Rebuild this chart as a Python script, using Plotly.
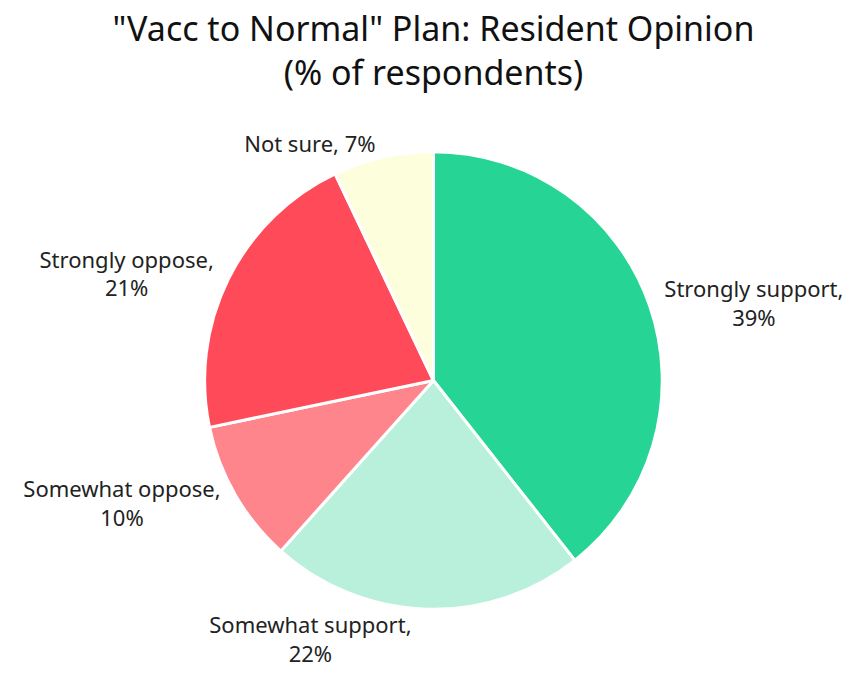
import plotly.graph_objects as go

labels = ["Strongly support", "Somewhat support", "Somewhat oppose", "Strongly oppose", "Not sure"]
values = [39, 22, 10, 21, 7]
colors = ["#26d596", "#b8f0dc", "#ff858d", "#ff4a5a", "#fdfedc"]
text_labels = ["Strongly support,<br>39%", "Somewhat support,<br>22%", "Somewhat oppose,<br>10%",
               "Strongly oppose,<br>21%", "Not sure, 7%"]

fig = go.Figure(go.Pie(
    labels=labels,
    values=values,
    text=text_labels,
    textinfo="text",
    textposition="outside",
    sort=False,
    direction="clockwise",
    rotation=0,
    domain=dict(x=[0.12, 0.92], y=[0, 1]),
    marker=dict(colors=colors, line=dict(color="white", width=3)),
    textfont=dict(size=22, color="#222222", family="Noto Sans"),
    showlegend=False,
    hoverinfo="label+value",
))

fig.update_layout(
    width=867, height=678,
    title=dict(text='"Vacc to Normal" Plan: Resident Opinion<br>(% of respondents)',
               x=0.5, xanchor="center", yref="container", y=0.94, yanchor="top",
               font=dict(size=34, color="#111111", family="Noto Sans")),
    margin=dict(l=10, r=0, t=146, b=40),
    paper_bgcolor="white",
)

fig.write_html("out.html")
